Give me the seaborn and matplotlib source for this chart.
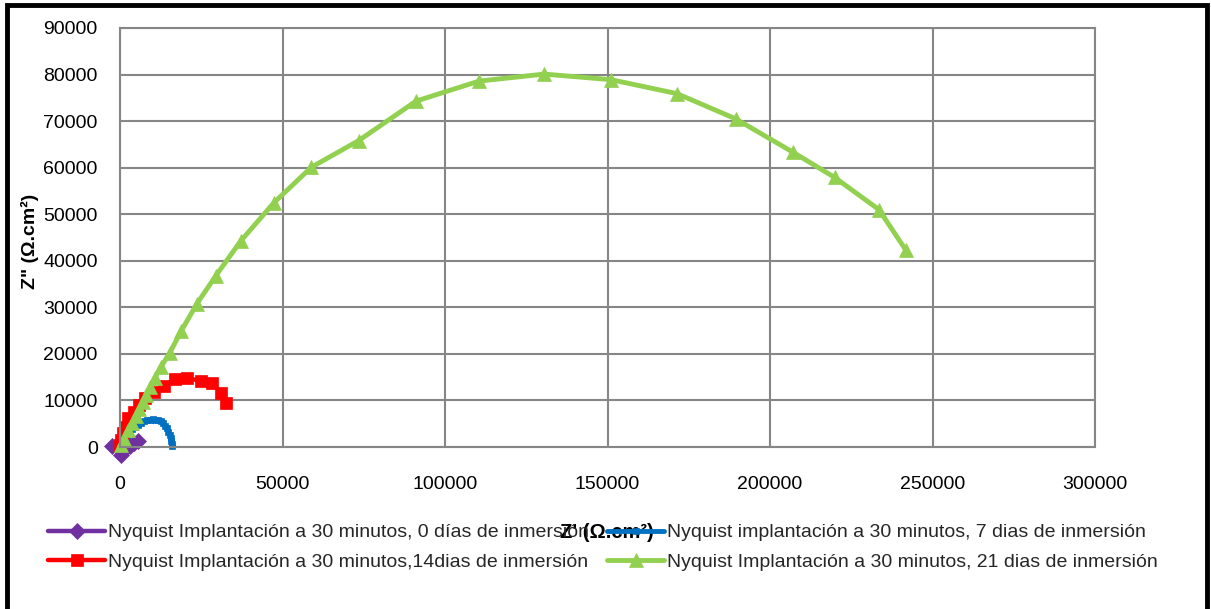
import matplotlib
matplotlib.use("Agg")
import matplotlib.pyplot as plt
import seaborn as sns
import numpy as np
from matplotlib.font_manager import fontManager
from matplotlib.patches import Rectangle

# ---------------- data (values in Ohm.cm^2) ----------------
labels = [
    "Nyquist Implantación a 30 minutos, 0 días de inmersión",
    "Nyquist implantación a 30 minutos, 7 dias de inmersión",
    "Nyquist Implantación a 30 minutos,14dias de inmersión",
    "Nyquist Implantación a 30 minutos, 21 dias de inmersión",
]

d0_x = [-2500, 200, 1500, 3000, 4300, 5500]
d0_y = [300, -1700, -400, 300, 800, 1200]

d7_x = [100, 500, 1000, 1600, 2300, 3000, 3800, 4600, 5500, 6400, 7300, 8200, 9100,
        10000, 10900, 11700, 12500, 13200, 13800, 14400, 14900, 15300, 15600, 15800,
        15950, 16000]
d7_y = [100, 600, 1200, 1900, 2600, 3200, 3800, 4300, 4800, 5200, 5500, 5750, 5900,
        5950, 5900, 5750, 5500, 5100, 4600, 4000, 3300, 2600, 1900, 1200, 600, 150]

d14_x = [100, 400, 800, 1500, 2600, 4200, 5700, 7800, 10500, 13600, 17000, 20700,
         24800, 28300, 31100, 32700]
d14_y = [500, 1600, 3000, 4400, 6200, 7600, 9100, 10500, 11900, 13100, 14600, 14800,
         14200, 13700, 11600, 9500]

d21_x = [300, 1300, 2600, 3800, 4900, 5900, 7000, 8100, 9300, 10800, 12500, 15300,
         18900, 23700, 29500, 37200, 47400, 58900, 73400, 91100, 110500, 130500,
         151100, 171400, 189400, 207100, 219900, 233500, 241700]
d21_y = [400, 1800, 3600, 5200, 6700, 8100, 9600, 11100, 12800, 14900, 17100, 20200,
         25000, 30800, 36800, 44300, 52500, 60100, 65800, 74300, 78600, 80100,
         78900, 75900, 70500, 63300, 57900, 51000, 42400]

x_ticks = [0, 50000, 100000, 150000, 200000, 250000, 300000]
y_ticks = [0, 10000, 20000, 30000, 40000, 50000, 60000, 70000, 80000, 90000]

# ---------------- style ----------------
sns.set_theme(style="white")
names = {f.name for f in fontManager.ttflist}
tick_font = "Liberation Sans" if "Liberation Sans" in names else "DejaVu Sans"
plt.rcParams["font.family"] = [tick_font, "DejaVu Sans"]

W, H = 1211, 609
fig = plt.figure(figsize=(W / 100, H / 100), dpi=100)
fig.patch.set_facecolor("white")

left, right, top, bottom = 120, 1095, 28, 447
ax = fig.add_axes([left / W, 1 - bottom / H, (right - left) / W, (bottom - top) / H])

grid_c = "#868686"

series = [
    (d0_x, d0_y, "#7030A0", "D", 8.5, 3.2),
    (d7_x, d7_y, "#0070C0", "s", 4.5, 3.5),
    (d14_x, d14_y, "#FF0000", "s", 9, 3.2),
    (d21_x, d21_y, "#92D050", "^", 10.5, 3.5),
]
handles = []
for (xs, ys, col, mk, ms, lw), lab in zip(series, labels):
    sns.lineplot(x=xs, y=ys, sort=False, estimator=None, ax=ax, color=col,
                 marker=mk, markersize=ms, markeredgecolor=col, markeredgewidth=0.5,
                 linewidth=lw, legend=False, clip_on=False)
    handles.append(ax.lines[-1])

ax.set_xlim(0, 300000)
ax.set_ylim(0, 90000)
ax.set_xticks(x_ticks)
ax.set_yticks(y_ticks)
ax.set_xticklabels([str(v) for v in x_ticks])
ax.set_yticklabels([str(v) for v in y_ticks])
ax.grid(True, color=grid_c, linewidth=1.5)
ax.set_axisbelow(True)
for sp in ax.spines.values():
    sp.set_color(grid_c)
    sp.set_linewidth(1.5)
ax.tick_params(axis="both", length=0, labelsize=14, labelcolor="black")
ax.tick_params(axis="y", pad=16)
ax.tick_params(axis="x", pad=21)

ax.set_xlabel("Z' (Ω.cm²)", fontsize=14.5, fontweight="bold", color="black")
ax.xaxis.set_label_coords((607 - left) / (right - left), -(532 - bottom) / (bottom - top))
ax.xaxis.label.set_va("center")
ax.set_ylabel('Z" (Ω.cm²)', fontsize=14, fontweight="bold", color="black")
ax.yaxis.set_label_coords((30 - left) / (right - left), 0.49)
ax.yaxis.label.set_va("center")

# legends: two columns as in the reference
leg_kw = dict(frameon=False, handlelength=2.95, handletextpad=0.15,
              borderpad=0, borderaxespad=0, labelspacing=0.62,
              prop={"family": [tick_font, "DejaVu Sans"], "size": 14})
l1 = fig.legend([handles[0], handles[2]], [labels[0], labels[2]], loc="center left",
                bbox_to_anchor=(48 / W, 1 - 547.5 / H), **leg_kw)
l2 = fig.legend([handles[1], handles[3]], [labels[1], labels[3]], loc="center left",
                bbox_to_anchor=(607 / W, 1 - 547.5 / H), **leg_kw)

# outer black frame
fig.patches.append(Rectangle((7 / W, -0.02), (1207 - 7) / W, 1 - 5 / H + 0.02,
                             transform=fig.transFigure, fill=False,
                             edgecolor="black", linewidth=3.5, zorder=10))

fig.savefig("out.png", dpi=100)
